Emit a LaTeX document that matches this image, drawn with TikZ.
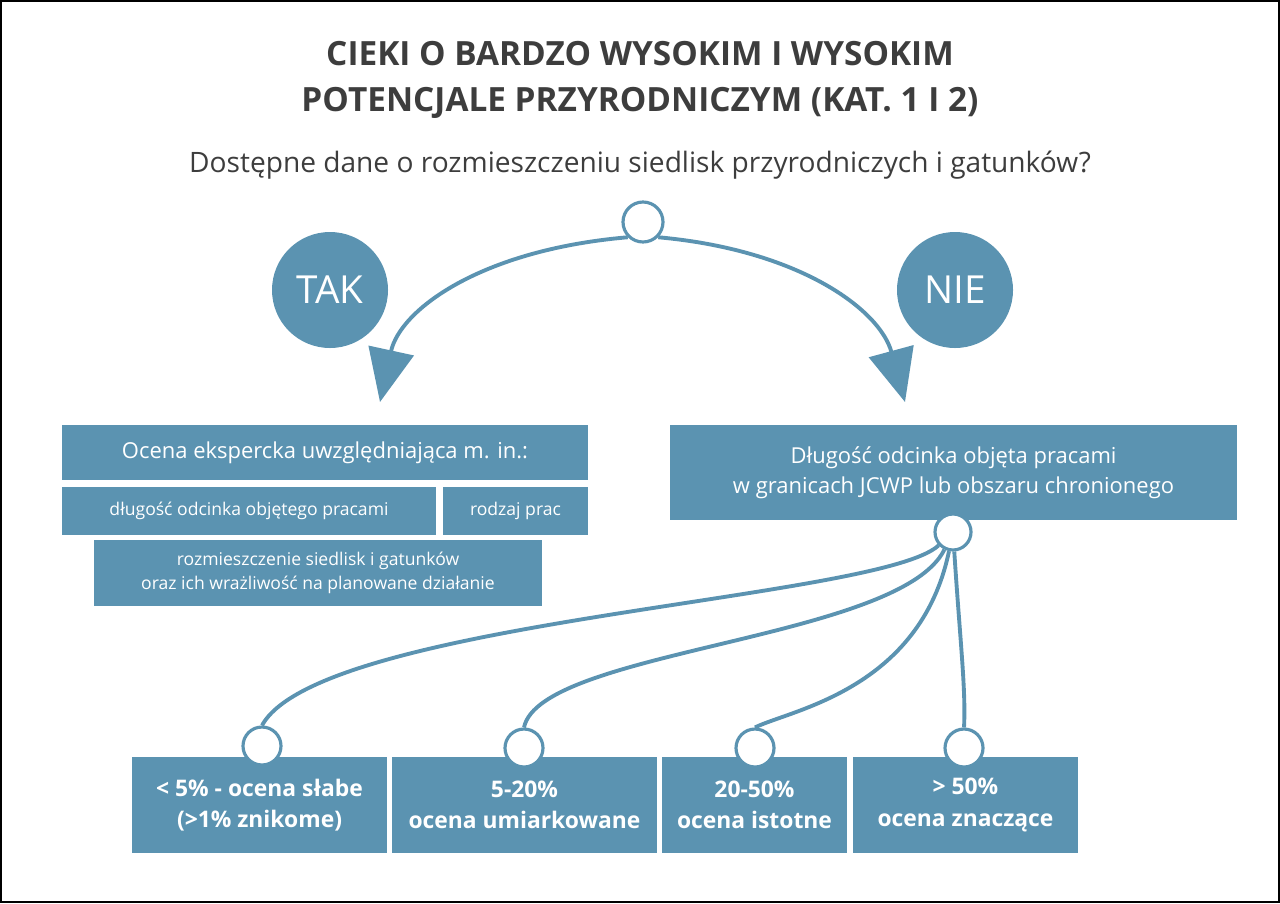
\documentclass[tikz,border=0pt]{standalone}
\usepackage{fontspec}
\setmainfont{Open Sans}
\usetikzlibrary{arrows.meta}
\definecolor{steel}{HTML}{5B93B1}
\definecolor{ink}{HTML}{3D3D3D}
\newcommand\pxu{0.02cm}
\tikzset{box/.style = {fill = steel, text = white, align = center, inner sep = 0pt},
         dot/.style = {circle, draw = steel, line width = 1.8pt, fill = white, inner sep = 0pt},
         link/.style = {draw = steel, line width = 2.2pt},
         big/.style = {-{Triangle[length = 30pt, width = 26pt]}}}
\begin{document}
\begin{tikzpicture}[x = 0.02cm, y = -0.02cm]
      \useasboundingbox (0, 0) rectangle (1280, 903);
      \draw [black, line width = 1pt] (1, 1) rectangle (1279, 902);

      \node (title) at (640, 80) [text = ink, align = center, font = \bfseries\fontsize{19}{26}\selectfont]
        {CIEKI O BARDZO WYSOKIM I WYSOKIM\\POTENCJALE PRZYRODNICZYM (KAT. 1 I 2)};
      \node (question) at (640, 165) [text = ink, font = \fontsize{16}{20}\selectfont]
        {Dostępne dane o rozmieszczeniu siedlisk przyrodniczych i gatunków?};

      \node (top) at (643, 222) [dot, minimum size = 40*\pxu] {};
      \node (tak) at (330, 290) [circle, fill = steel, minimum size = 116*\pxu, text = white,
        font = \fontsize{22}{26}\selectfont] {TAK};
      \node (nie) at (955, 290) [circle, fill = steel, minimum size = 116*\pxu, text = white,
        font = \fontsize{22}{26}\selectfont] {NIE};
      \coordinate (tipL) at (380, 402);
      \coordinate (tipR) at (905, 402);
      \draw [link, big] (top.south west) .. controls (480, 250) and (400, 310) .. (tipL);
      \draw [link, big] (top.south east) .. controls (800, 250) and (880, 310) .. (tipR);

      % lewa strona
      \node (expert) [box, minimum width = 526*\pxu, minimum height = 55*\pxu, font = \fontsize{12.5}{15}\selectfont]
        at (325, 452.5) {Ocena ekspercka uwzględniająca m. in.:};
      \node (length) [box, minimum width = 374*\pxu, minimum height = 48*\pxu, font = \fontsize{10}{13}\selectfont]
        at (249, 511) {długość odcinka objętego pracami};
      \node (kind) [box, minimum width = 145*\pxu, minimum height = 48*\pxu, font = \fontsize{10}{13}\selectfont]
        at (515.5, 511) {rodzaj prac};
      \node (habitat) [box, minimum width = 448*\pxu, minimum height = 66*\pxu, font = \fontsize{10}{14}\selectfont]
        at (318, 573) {rozmieszczenie siedlisk i gatunków\\oraz ich wrażliwość na planowane działanie};

      % prawa strona
      \node (share) [box, minimum width = 567*\pxu, minimum height = 95*\pxu, font = \fontsize{12.5}{17}\selectfont]
        at (953.5, 472.5) {Długość odcinka objęta pracami\\w granicach JCWP lub obszaru chronionego};
      \node (hub) at (953, 532) [dot, minimum size = 36*\pxu] {};

      % oceny
      \node (low) [box, minimum width = 255*\pxu, minimum height = 96*\pxu, font = \bfseries\fontsize{13}{18}\selectfont]
        at (259.5, 805) {< 5\% - ocena słabe\\(>1\% znikome)};
      \node (mid) [box, minimum width = 265*\pxu, minimum height = 96*\pxu, font = \bfseries\fontsize{13}{18}\selectfont]
        at (524.5, 805) {5-20\%\\ocena umiarkowane};
      \node (high) [box, minimum width = 185*\pxu, minimum height = 96*\pxu, font = \bfseries\fontsize{13}{18}\selectfont]
        at (754.5, 805) {20-50\%\\ocena istotne};
      \node (top50) [box, minimum width = 225*\pxu, minimum height = 96*\pxu, font = \bfseries\fontsize{13}{18}\selectfont]
        at (965.5, 805) {> 50\%\\ocena znaczące};

      \node (d1) at (262, 746) [dot, minimum size = 38*\pxu] {};
      \node (d2) at (524, 748) [dot, minimum size = 38*\pxu] {};
      \node (d3) at (755, 748) [dot, minimum size = 38*\pxu] {};
      \node (d4) at (964, 748) [dot, minimum size = 38*\pxu] {};

      \draw [link] (hub) .. controls (880, 600) and (320, 620) .. (d1.north);
      \draw [link] (hub) .. controls (900, 640) and (540, 650) .. (d2.north);
      \draw [link] (hub) .. controls (920, 690) and (790, 710) .. (d3.north);
      \draw [link] (hub) .. controls (960, 640) and (966, 690) .. (d4.north);
    \end{tikzpicture}
\end{document}
